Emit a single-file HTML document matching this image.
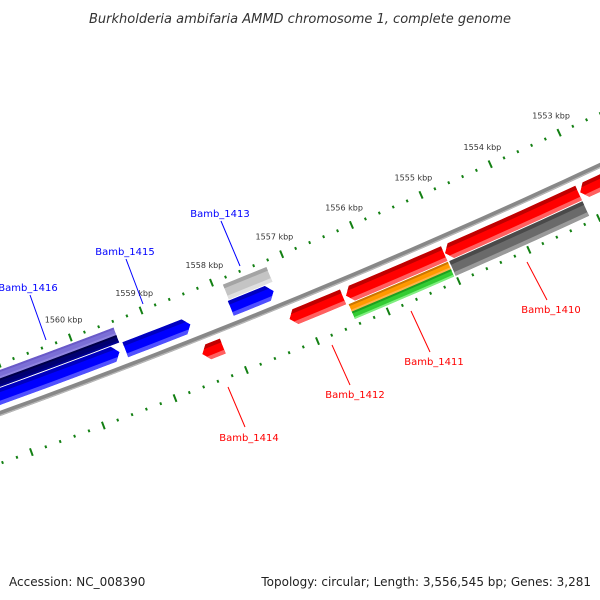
<!DOCTYPE html>
<html><head><meta charset="utf-8"><style>
html,body{margin:0;padding:0;background:#fff}
svg{display:block}
text{font-family:"DejaVu Sans","Liberation Sans",sans-serif}
</style></head><body>
<svg id="map" width="600" height="600" viewBox="0 0 600 600" xmlns="http://www.w3.org/2000/svg">
<defs id="defs"></defs>
<text x="300" y="23" text-anchor="middle" font-size="13" font-style="italic" fill="#333">Burkholderia ambifaria AMMD chromosome 1, complete genome</text>
<g id="plot"></g>
<text x="9" y="586" font-size="12" fill="#222">Accession: NC_008390</text>
<text x="591" y="586" text-anchor="end" font-size="12" fill="#222">Topology: circular; Length: 3,556,545 bp; Genes: 3,281</text>
</svg>
<script>
// ruler data (kbp)
const majorTicks = [1551,1552,1553,1554,1555,1556,1557,1558,1559,1560,1561,1562,1563];
const tickLabels = ["1551 kbp","1552 kbp","1553 kbp","1554 kbp","1555 kbp","1556 kbp","1557 kbp","1558 kbp","1559 kbp","1560 kbp","1561 kbp","1562 kbp","1563 kbp"];
const labeledTicks = [1553,1554,1555,1556,1557,1558,1559,1560];
// features: start/end kbp
const featNames  = ["Bamb_1416","Bamb_1416b","Bamb_1416c","Bamb_1415","Bamb_1413","Bamb_1413b","Bamb_1414","Bamb_1412","Bamb_1411","Bamb_1410","Bamb_1409","Bamb_1411b","Bamb_1411c","Bamb_1410b"];
const featStart  = [1559.46,1559.42,1559.42,1558.46,1557.28,1557.25,1558.17,1556.47,1555.03,1553.10,1552.00,1555.03,1555.03,1553.10];
const featEnd    = [1562.50,1562.50,1562.50,1559.38,1557.89,1557.87,1558.46,1557.23,1556.43,1555.02,1553.08,1556.44,1556.44,1555.01];
const featTrack  = ["u1","u2a","u2b","u1","u1","u2","l1","l1","l1","l1","l1","l2a","l2b","l2"];
const featStrand = [1,0,0,1,1,0,-1,-1,-1,-1,-1,0,0,0];
const featColor  = ["blue","purple","navy","blue","blue","lgray","red","red","red","red","red","orange","green","dgray"];
const labelNames = ["Bamb_1416","Bamb_1415","Bamb_1413","Bamb_1414","Bamb_1412","Bamb_1411","Bamb_1410"];

const tracks = {u1:[-24,-8],u2:[-41,-25],u2a:[-41,-33],u2b:[-33,-25],l1:[8,24],l2:[25,41],l2a:[25,33],l2b:[33,41]};
const palette = {
 blue:["#0000ff","#0000c0","#5050ff"], red:["#ff0000","#c00000","#ff6060"],
 lgray:["#c4c4c4","#a4a4a4","#e0e0e0"], dgray:["#6a6a6a","#4a4a4a","#9a9a9a"],
 orange:["#ff9900","#cc7700","#ffb347"], green:["#33cc33","#1f9f1f","#80ee80"],
 purple:["#7b6fd6","#6a5ac8","#8f84e0"], navy:["#000070","#00004a","#000090"]};

const CX=-2421, CY=-6294, R=7131, A0=66.96, DA=0.6125;
function P(k,d){const a=(A0+(k-1556)*DA)*Math.PI/180, r=R+d; return [CX+r*Math.cos(a), CY+r*Math.sin(a)];}
function arcPts(k1,k2,d){const n=Math.max(2,Math.ceil(Math.abs(k2-k1)/0.2)+1),o=[];for(let i=0;i<n;i++){o.push(P(k1+(k2-k1)*i/(n-1),d));}return o;}
const NS="http://www.w3.org/2000/svg";
const plot=document.getElementById('plot'), defs=document.getElementById('defs');
function el(t,a,p){const e=document.createElementNS(NS,t);for(const k in a)e.setAttribute(k,a[k]);(p||plot).appendChild(e);return e;}
function fmt(pts){return pts.map(p=>p[0].toFixed(2)+","+p[1].toFixed(2)).join(" ");}

// backbone
const bb=el('polyline',{points:fmt(arcPts(1551,1563,0)),fill:'none',stroke:'#888',"stroke-width":5});


const bb2=el('polyline',{points:fmt(arcPts(1551,1563,1.8)),fill:'none',stroke:'#b8b8b8',"stroke-width":1.2});



// rulers
[-47,47].forEach((dr,ri)=>{
 const g=el('g',{});
 
 
 majorTicks.forEach((k,i)=>{
  for(let m=0;m<5;m++){
   const kk=k+m*0.2, L=m===0?4:1.4;
   const a=P(kk,dr-L), b=P(kk,dr+L);
   const t=el('line',{x1:a[0],y1:a[1],x2:b[0],y2:b[1],stroke:'#138013',"stroke-width":2},g);
   
   
  }
  if(ri===0 && labeledTicks.indexOf(k)>=0){
   const p=P(k,dr-19);
   const tx=el('text',{x:p[0].toFixed(1),y:(p[1]+3).toFixed(1),"text-anchor":"middle","font-size":"8",fill:'#333'},g);
   tx.textContent=tickLabels[i];
   
   
  }
 });
});

// features
featNames.forEach((nm,i)=>{
 const tr=tracks[featTrack[i]], d1=tr[0], d2=tr[1], dm=(d1+d2)/2;
 let k1=featStart[i], k2=featEnd[i], h=0.085, pts;
 if(featStrand[i]===1){ // tip at k1
  pts=[P(k1,dm)].concat(arcPts(k1+h,k2,d1), arcPts(k2,k1+h,d2));
 } else if(featStrand[i]===-1){ // tip at k2
  pts=arcPts(k1,k2-h,d1).concat([P(k2,dm)], arcPts(k2-h,k1,d2));
 } else {
  pts=arcPts(k1,k2,d1).concat(arcPts(k2,k1,d2));
 }
 const cid='clip'+i;
 const cp=el('clipPath',{id:cid},defs);
 el('polygon',{points:fmt(pts)},cp);
 const g=el('g',{"clip-path":"url(#"+cid+")"});
 
 
 const c=palette[featColor[i]];
 const body=el('polygon',{points:fmt(pts),fill:c[0]},g);
 
 
 const th=(d2-d1)*0.25;
 const top=el('polygon',{points:fmt(arcPts(k1-0.2,k2+0.2,d1-1).concat(arcPts(k2+0.2,k1-0.2,d1+th))),fill:c[1]},g);
 
 
 const bot=el('polygon',{points:fmt(arcPts(k1-0.2,k2+0.2,d2-th).concat(arcPts(k2+0.2,k1-0.2,d2+1))),fill:c[2]},g);
 
 
});

// gene labels
const lbl=[
 {t:"Bamb_1416",x:28,y:291,x1:30,y1:295,x2:46,y2:340,c:"#0000ff"},
 {t:"Bamb_1415",x:125,y:255,x1:126,y1:259,x2:143,y2:304,c:"#0000ff"},
 {t:"Bamb_1413",x:220,y:217,x1:221,y1:221,x2:240,y2:266,c:"#0000ff"},
 {t:"Bamb_1414",x:249,y:441,x1:228,y1:387,x2:245,y2:427,c:"#ff0000"},
 {t:"Bamb_1412",x:355,y:398,x1:332,y1:345,x2:350,y2:385,c:"#ff0000"},
 {t:"Bamb_1411",x:434,y:365,x1:411,y1:311,x2:430,y2:352,c:"#ff0000"},
 {t:"Bamb_1410",x:551,y:313,x1:527,y1:262,x2:547,y2:300,c:"#ff0000"}];
lbl.forEach((L,i)=>{
 const g=el('g',{});
 
 
 el('line',{x1:L.x1,y1:L.y1,x2:L.x2,y2:L.y2,stroke:L.c,"stroke-width":1},g);
 const t=el('text',{x:L.x,y:L.y,"text-anchor":"middle","font-size":"10",fill:L.c},g);
 t.textContent=L.t;
});
</script>
</body></html>
